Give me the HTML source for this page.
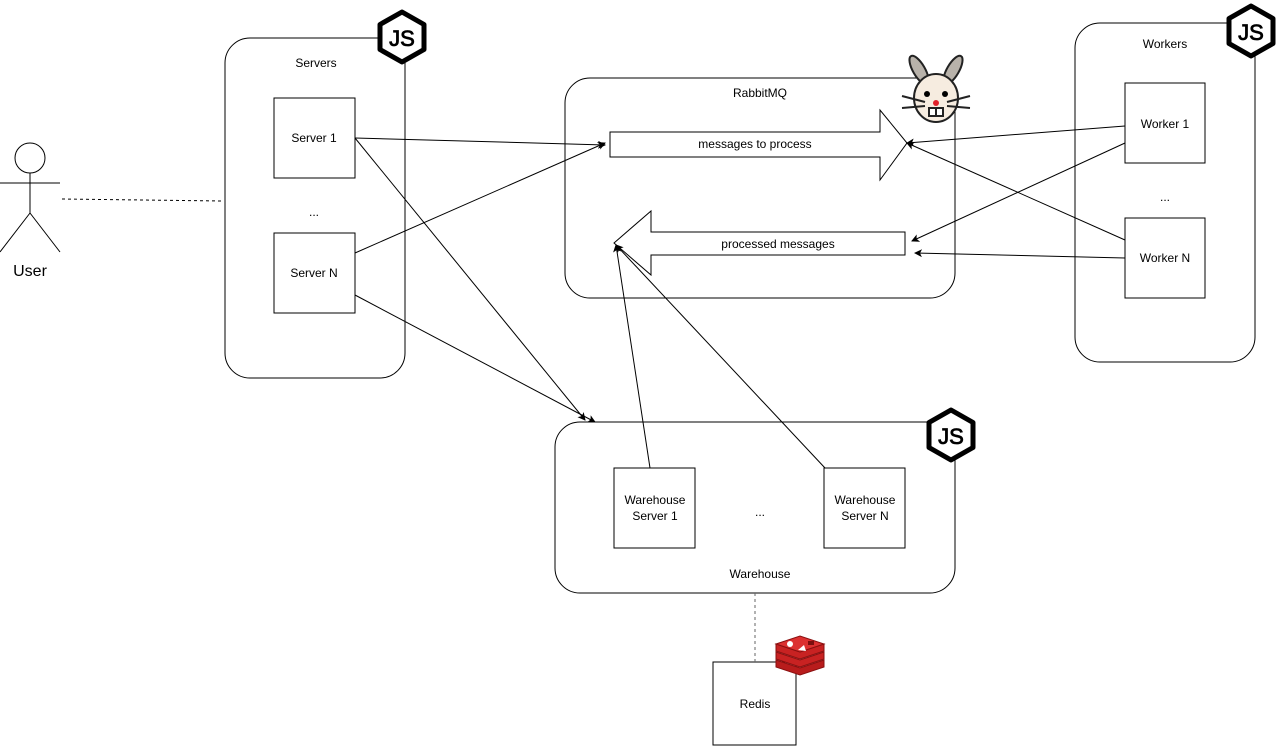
<!DOCTYPE html>
<html><head><style>body{margin:0;background:#fff}svg{display:block}</style></head><body>
<svg width="1285" height="747" viewBox="0 0 1285 747" xmlns="http://www.w3.org/2000/svg" font-family="Liberation Sans, Arial, sans-serif" font-size="12">
<defs>
<marker id="a" markerWidth="8" markerHeight="8" refX="7" refY="4" orient="auto" markerUnits="userSpaceOnUse"><path d="M0,0 L8,4 L0,8 L2,4z" fill="#000"/></marker>
<g id="node">
<path d="M25,0 L47,12.5 L47,37.5 L25,50 L3,37.5 L3,12.5z" fill="#fff" stroke="#000" stroke-width="5" stroke-linejoin="round"/>
<text x="25" y="34" font-size="22" text-anchor="middle" fill="#000" stroke="#000" stroke-width="0.8" letter-spacing="0">JS</text>
</g>
</defs>
<g fill="#fff" stroke="#000" stroke-width="1">
<rect x="225" y="38" width="180" height="340" rx="25"/>
<rect x="565" y="78" width="390" height="220" rx="25"/>
<rect x="1075" y="23" width="180" height="339" rx="25"/>
<rect x="555" y="422" width="400" height="171" rx="25"/>
<rect x="274" y="98" width="81" height="80"/>
<rect x="274" y="233" width="81" height="80"/>
<rect x="1125" y="83" width="80" height="80"/>
<rect x="1125" y="218" width="80" height="80"/>
<rect x="614" y="468" width="81" height="80"/>
<rect x="824" y="468" width="81" height="80"/>
<rect x="713" y="662" width="83" height="83"/>
<path d="M610,132 L880,132 L880,110 L907,143 L880,180 L880,157 L610,157z"/>
<path d="M614,243 L651,211 L651,232 L905,232 L905,255 L651,255 L651,275z"/>
<circle cx="30" cy="158" r="15"/>
<path d="M30,173 L30,213 M0,183 L60,183 M30,213 L0,252 M30,213 L60,252" fill="none"/>
</g>
<g stroke="#000" stroke-dasharray="3,3" fill="none">
<path d="M62,199 L222,201"/>
<path d="M755,593 L755,662" stroke="#666"/>
</g>
<g stroke="#000" fill="none" marker-end="url(#a)">
<path d="M355,138 L605,145"/>
<path d="M355,253 L605,143"/>
<path d="M355,138 L585,420"/>
<path d="M355,295 L595,422"/>
<path d="M1125,126 L907,143"/>
<path d="M1125,240 L907,143"/>
<path d="M1125,143 L912,241"/>
<path d="M1125,258 L915,253"/>
<path d="M650,468 L616,245"/>
<path d="M825,468 L616,245"/>
</g>
<g text-anchor="middle" fill="#000">
<text x="316" y="67">Servers</text>
<text x="314" y="142">Server 1</text>
<text x="314" y="277">Server N</text>
<text x="314" y="216">...</text>
<text x="30" y="276" font-size="16">User</text>
<text x="760" y="97">RabbitMQ</text>
<text x="755" y="148">messages to process</text>
<text x="778" y="248">processed messages</text>
<text x="1165" y="48">Workers</text>
<text x="1165" y="128">Worker 1</text>
<text x="1165" y="262">Worker N</text>
<text x="1165" y="201">...</text>
<text x="655" y="504">Warehouse</text>
<text x="655" y="520">Server 1</text>
<text x="865" y="504">Warehouse</text>
<text x="865" y="520">Server N</text>
<text x="760" y="516">...</text>
<text x="760" y="578">Warehouse</text>
<text x="755" y="708">Redis</text>
</g>
<use href="#node" x="377" y="12"/>
<use href="#node" x="1226" y="6"/>
<use href="#node" x="926" y="410"/>
<!-- rabbit -->
<g stroke="#222" stroke-width="2">
<ellipse cx="919" cy="70" rx="6" ry="16" fill="#b8b2aa" transform="rotate(-30 919 70)"/>
<ellipse cx="953" cy="70" rx="6" ry="16" fill="#b8b2aa" transform="rotate(30 953 70)"/>
<ellipse cx="936" cy="98" rx="22" ry="24" fill="#f6ece0"/>
<path d="M902,96 L925,102 M902,108 L925,106 M970,96 L947,102 M970,108 L947,106" fill="none"/>
<rect x="929" y="108" width="7" height="8" fill="#fff"/><rect x="936" y="108" width="7" height="8" fill="#fff"/>
</g>
<circle cx="927" cy="94" r="3" fill="#000"/><circle cx="945" cy="94" r="3" fill="#000"/>
<circle cx="936" cy="103" r="3" fill="#e0202a"/>
<!-- redis -->
<g stroke="#8a1010" stroke-width="1">
<path d="M776,660 L800,668 L824,660 L824,667 L800,675 L776,667z" fill="#b81c1c"/>
<path d="M776,652 L800,660 L824,652 L824,659 L800,667 L776,659z" fill="#c82222"/>
<path d="M776,644 L800,652 L824,644 L824,651 L800,659 L776,651z" fill="#c82222"/>
<path d="M776,644 L800,636 L824,644 L800,652z" fill="#dc3030"/>
</g>
<circle cx="790" cy="644" r="3" fill="#fff"/><path d="M798,650 L804,645 L806,651z" fill="#fff"/><rect x="808" y="641" width="6" height="4" fill="#7a0e0e"/>
</svg>
</body></html>
